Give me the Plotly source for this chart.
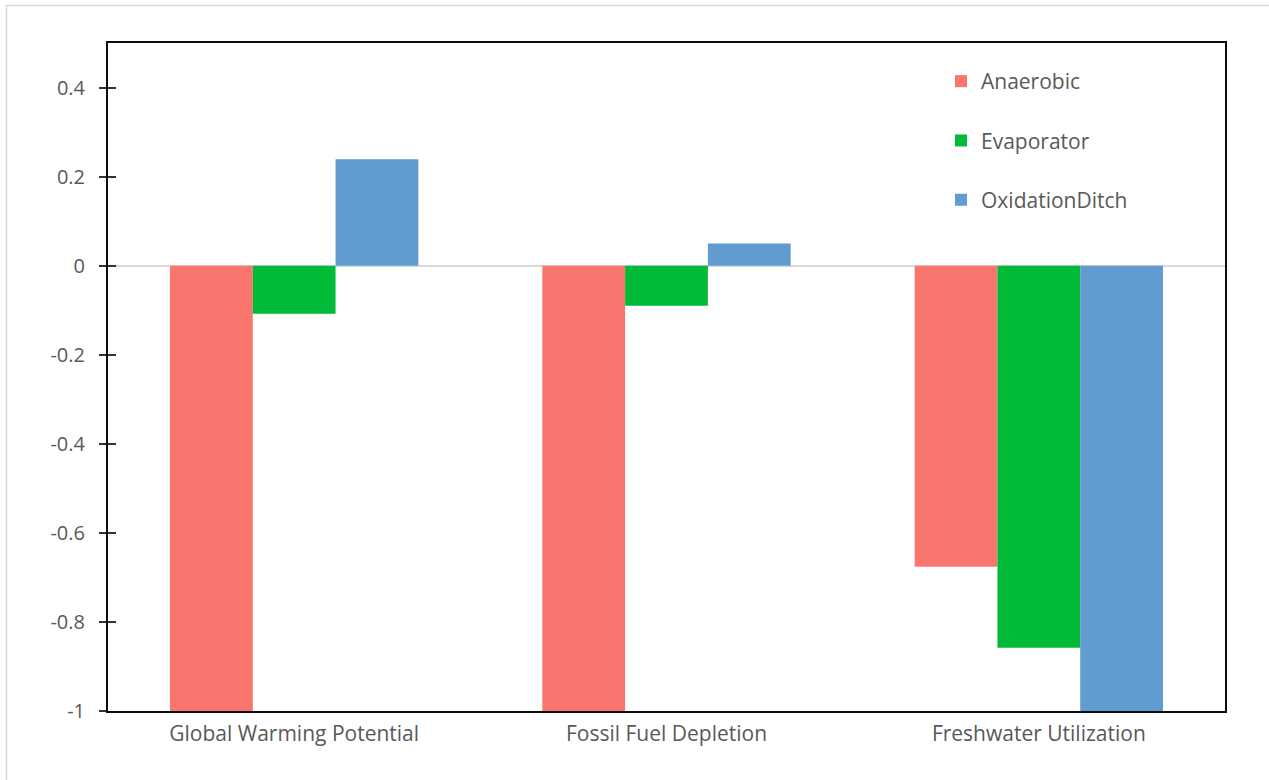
import plotly.graph_objects as go

categories = ["Global Warming Potential", "Fossil Fuel Depletion", "Freshwater Utilization"]
anaerobic = [-1.0, -1.0, -0.676]
evaporator = [-0.108, -0.09, -0.858]
oxidation_ditch = [0.239, 0.05, -1.0]
y_ticks = [-1, -0.8, -0.6, -0.4, -0.2, 0, 0.2, 0.4]
y_tick_text = ["-1", "-0.8", "-0.6", "-0.4", "-0.2", "0", "0.2", "0.4"]

series = [
    ("Anaerobic", anaerobic, "#F8766D"),
    ("Evaporator", evaporator, "#00BA38"),
    ("OxidationDitch", oxidation_ditch, "#619CD0"),
]

font_family = "Open Sans"
text_color = "#595959"
fsize = 21

fig = go.Figure()
for name, vals, color in series:
    fig.add_trace(go.Bar(
        x=categories, y=vals, name=name,
        marker=dict(color=color, line=dict(width=0)),
        legendgroup=name,
    ))

# secondary axis used only to draw the inward half of the y tick marks
fig.add_trace(go.Scatter(x=[categories[0]], y=[None], yaxis="y2", showlegend=False,
                         hoverinfo="skip"))

W, H = 1269, 780
ml, mr, mt, mb = 108, 44, 43, 69
pw, ph = W - ml - mr, H - mt - mb

fig.update_layout(
    width=W, height=H,
    margin=dict(l=ml, r=mr, t=mt, b=mb, pad=0),
    paper_bgcolor="white", plot_bgcolor="white",
    barmode="group", bargap=0.333, bargroupgap=0,
    font=dict(family=font_family, size=fsize, color=text_color),
    showlegend=True,
    legend=dict(
        x=(941 - ml) / pw, y=(H - mb - 61) / ph, xanchor="left", yanchor="top",
        bgcolor="rgba(0,0,0,0)", font=dict(size=fsize, color=text_color),
        tracegroupgap=29, itemwidth=30,
    ),
    xaxis=dict(
        showline=True, linecolor="#0d0d0d", linewidth=2, mirror=True,
        ticks="", showgrid=False, tickfont=dict(size=fsize, color=text_color),
        ticklabelstandoff=3,
    ),
    yaxis=dict(
        range=[-1, 0.5], tickvals=y_ticks, ticktext=y_tick_text,
        showline=True, linecolor="#0d0d0d", linewidth=2, mirror=True,
        ticks="outside", ticklen=7, tickwidth=1.5, tickcolor="#333333",
        showgrid=False, zeroline=True, zerolinecolor="#d9d9d9", zerolinewidth=2,
        tickfont=dict(size=20, color=text_color), ticklabelstandoff=10,
    ),
    yaxis2=dict(
        range=[-1, 0.5], tickvals=y_ticks, overlaying="y", side="left",
        showticklabels=False, ticks="inside", ticklen=8, tickwidth=1.5,
        tickcolor="#333333", showgrid=False, zeroline=False, showline=False,
    ),
    shapes=[
        dict(type="rect", xref="paper", yref="paper",
             x0=(6.5 - ml) / pw, x1=(W + 20 - ml) / pw,
             y0=(H - mb - (H + 20)) / ph, y1=(H - mb - 5.5) / ph,
             line=dict(color="#d9d9d9", width=1.5), layer="below"),
    ],
)

fig.write_html("out.html")
